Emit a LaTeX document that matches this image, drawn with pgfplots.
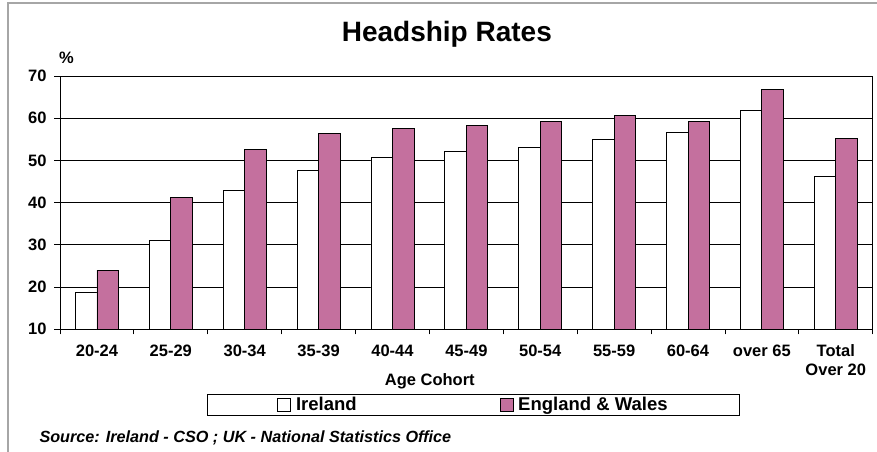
\documentclass[border=0pt]{standalone}
\usepackage{pgfplots}
\pgfplotsset{compat=1.18}
\usepackage{fontspec}
\setmainfont{Liberation Sans}
\definecolor{ewfill}{RGB}{196,112,158}
\newcommand{\lblfont}{\fontsize{16.5bp}{19bp}\selectfont\bfseries}

\begin{document}
\begin{tikzpicture}
\useasboundingbox (0,0) rectangle (877bp,-452bp);
% outer chart frame
\draw[gray!70, line width=1.2bp] (8bp,-452bp) -- (8bp,-3bp) -- (877bp,-3bp);
\begin{axis}[
  at={(60bp,-329.3bp)}, anchor=south west,
  width=812.7bp, height=253.3bp, scale only axis,
  xmin=-0.5, xmax=10.5, ymin=10, ymax=70,
  ytick={10,20,...,70},
  xtick={0,...,10},
  xticklabels={20-24,25-29,30-34,35-39,40-44,45-49,50-54,55-59,60-64,over 65,{Total\\Over 20}},
  minor xtick={-0.5,0.5,...,10.5},
  major x tick style={draw=none},
  tick align=outside, tick pos=left,
  major tick length=6bp, minor tick length=5bp,
  tick style={black, line width=0.8bp},
  ymajorgrids, grid style={black, line width=0.8bp},
  axis line style={black, line width=0.9bp},
  ybar=0pt, bar width=21.5bp,
  /pgf/number format/assume math mode=true,
  tick label style={font=\lblfont},
  xticklabel style={align=center, yshift=-6bp},
  yticklabel style={xshift=-4bp},
  title={Headship Rates},
  title style={font=\fontsize{28bp}{32bp}\selectfont\bfseries,
    at={(axis description cs:0.476,1.112)}, anchor=base},
  xlabel={Age Cohort},
  xlabel style={font=\lblfont, at={(axis description cs:0.455,-0.207)}, anchor=center},
  ylabel={\%},
  ylabel style={font=\lblfont, rotate=-90, at={(axis description cs:0.008,1.071)}, anchor=center},
  legend columns=2,
  legend style={at={(axis description cs:0.1809,-0.2554)}, anchor=north west,
    draw=black, line width=0.8bp, font=\fontsize{18.5bp}{21bp}\selectfont\bfseries,
    inner xsep=70bp, inner ysep=1bp,
    /tikz/every odd column/.append style={column sep=3bp},
    /tikz/every even column/.append style={column sep=141bp}},
]
\addplot[fill=white, draw=black, line width=0.8bp,
  legend image code/.code={\draw[fill=white, draw=black, line width=0.6bp] (0bp,-6.5bp) rectangle (13bp,6.5bp);}]
  coordinates {(0,18.8) (1,31.1) (2,42.9) (3,47.7) (4,50.7) (5,52.2) (6,53.1) (7,55.0) (8,56.7) (9,61.9) (10,46.2)};
\addlegendentry{Ireland}
\addplot[fill=ewfill, draw=black, line width=0.8bp,
  legend image code/.code={\draw[fill=ewfill, draw=black, line width=0.6bp] (0bp,-6.5bp) rectangle (13bp,6.5bp);}]
  coordinates {(0,24.0) (1,41.3) (2,52.6) (3,56.3) (4,57.5) (5,58.2) (6,59.3) (7,60.6) (8,59.3) (9,66.8) (10,55.2)};
\addlegendentry{England \& Wales}
\end{axis}
\node[anchor=west, font=\fontsize{16.2bp}{19bp}\selectfont\bfseries\itshape] at (36bp,-438bp)
  {Source: Ireland - CSO ; UK - National Statistics Office};
\end{tikzpicture}
\end{document}
